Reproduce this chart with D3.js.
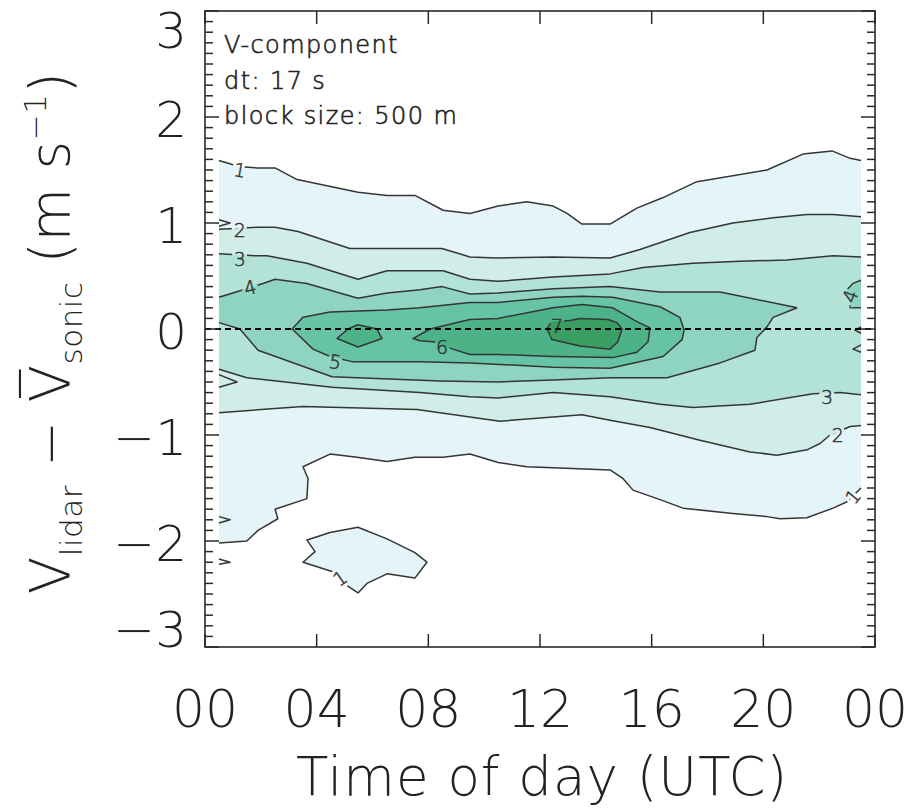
<!DOCTYPE html>
<html>
<head>
<meta charset="utf-8">
<script src="https://cdn.jsdelivr.net/npm/d3@7"></script>
<style>
  body { margin: 0; background: #fff; }
  svg { display: block; }
  text { font-family: "DejaVu Sans", sans-serif; font-weight: 200; fill: #222; }
</style>
</head>
<body>
<svg id="chart" width="911" height="808"></svg>
<script>
// axis ticks
const hourTicks = [0, 4, 8, 12, 16, 20, 24];
const hourLabels = ["00", "04", "08", "12", "16", "20", "00"];
const diffTicks = [-3, -2, -1, 0, 1, 2, 3];
const notes = ["V-component", "dt: 17 s", "block size: 500 m"];

// contour levels 1..7, fill colours
const levels = [1, 2, 3, 4, 5, 6, 7];
const levelColors = ["#e4f4f8", "#d1ede7", "#b3e3d6", "#8fd4c0", "#67c3a5", "#4cb389", "#3a9e62"];

// contour lines, [hour, difference in m/s]
const level1Upper = [[0.5,1.59],[1.25,1.53],[1.9,1.52],[2.51,1.52],[3.3,1.41],[5.48,1.29],[6.52,1.26],[7.52,1.26],[8.53,1.12],[9.49,1.09],[10.5,1.16],[11.53,1.2],[12.47,1.16],[12.97,1.09],[13.5,0.99],[14.51,0.99],[15.47,1.14],[16.41,1.24],[17.62,1.39],[20.13,1.5],[21.42,1.65],[22.46,1.68],[23.11,1.61],[23.5,1.59]];
const level1Lower = [[0.5,-2.02],[1.5,-2.0],[1.9,-1.9],[2.61,-1.79],[2.51,-1.7],[3.65,-1.6],[3.69,-1.41],[3.51,-1.3],[4.48,-1.18],[5.44,-1.21],[6.52,-1.25],[7.52,-1.21],[8.53,-1.21],[9.49,-1.18],[10.5,-1.26],[11.53,-1.3],[14.51,-1.33],[14.97,-1.41],[15.33,-1.52],[16.3,-1.61],[17.12,-1.69],[18.91,-1.74],[20.13,-1.77],[20.6,-1.79],[21.56,-1.78],[22.5,-1.69],[23.0,-1.63],[23.5,-1.5]];
const level1Island = [[3.65,-1.99],[3.94,-2.1],[3.51,-2.2],[4.58,-2.29],[5.09,-2.42],[5.48,-2.49],[5.8,-2.4],[6.52,-2.31],[7.52,-2.35],[7.95,-2.2],[7.52,-2.11],[6.52,-1.98],[5.48,-1.87],[4.48,-1.92]];
const level2Upper = [[0.5,0.94],[1.25,0.95],[1.9,0.96],[2.51,0.96],[3.33,0.92],[5.19,0.76],[7.7,0.76],[8.49,0.76],[9.49,0.68],[10.46,0.67],[12.47,0.68],[14.51,0.67],[15.58,0.75],[17.37,0.91],[18.91,1.0],[20.35,1.05],[21.56,1.08],[22.5,1.08],[23.5,1.06]];
const level2Lower = [[0.5,-0.79],[3.51,-0.73],[7.59,-0.76],[10.57,-0.87],[13.5,-0.81],[14.51,-0.86],[15.94,-0.93],[17.73,-1.05],[19.52,-1.16],[20.49,-1.19],[21.56,-1.14],[22.03,-1.08],[22.39,-1.0],[23.11,-0.92],[23.5,-0.91]];
const level3Upper = [[0.5,0.71],[1.79,0.69],[2.22,0.69],[3.65,0.62],[5.48,0.47],[6.52,0.55],[8.53,0.55],[9.49,0.47],[10.5,0.45],[12.47,0.49],[14.51,0.52],[15.69,0.58],[17.48,0.62],[19.16,0.64],[20.85,0.65],[22.5,0.69],[23.5,0.68]];
const level3Lower = [[0.5,-0.38],[1.5,-0.46],[4.55,-0.55],[7.7,-0.6],[9.49,-0.64],[10.5,-0.65],[12.47,-0.6],[14.51,-0.64],[16.3,-0.71],[17.48,-0.74],[19.52,-0.71],[21.78,-0.61],[22.75,-0.6],[23.5,-0.62]];
const level4Upper = [[0.5,0.3],[1.61,0.39],[2.08,0.43],[2.51,0.47],[3.65,0.43],[5.48,0.29],[6.52,0.34],[7.7,0.37],[8.49,0.4],[9.49,0.33],[10.5,0.34],[12.47,0.38],[14.51,0.4],[16.3,0.35],[18.45,0.35],[21.21,0.2]];
const level4Lower = [[0.5,0.06],[1.25,0.0],[1.9,-0.2],[4.55,-0.45],[8.42,-0.49],[10.5,-0.5],[12.47,-0.48],[14.51,-0.46],[16.55,-0.46],[18.45,-0.32],[19.7,-0.2],[19.77,-0.08],[20.13,0.02],[20.35,0.11],[21.21,0.2]];
const level4Island = [[23.5,0.46],[23.21,0.43],[22.92,0.35],[23.11,0.25],[23.11,0.2],[23.5,0.2]];
const level5Loop = [[3.12,0.0],[3.51,0.11],[4.48,0.16],[6.52,0.18],[7.7,0.2],[9.49,0.25],[10.5,0.25],[12.47,0.3],[13.5,0.31],[14.61,0.3],[16.3,0.21],[17.01,0.11],[17.16,-0.01],[17.09,-0.1],[16.41,-0.26],[14.51,-0.37],[12.47,-0.36],[9.49,-0.32],[7.7,-0.31],[5.3,-0.31],[4.48,-0.26],[3.87,-0.19]];
const level6Loop = [[7.45,-0.09],[8.06,0.0],[9.49,0.09],[10.5,0.1],[12.47,0.2],[13.5,0.23],[14.61,0.2],[15.47,0.07],[15.94,0.01],[15.87,-0.12],[15.47,-0.22],[14.61,-0.27],[12.47,-0.26],[10.5,-0.24],[9.49,-0.24],[8.88,-0.19],[8.17,-0.12],[7.7,-0.11]];
const level6Island = [[4.73,-0.09],[5.12,0.0],[5.48,0.04],[6.16,0.0],[6.34,-0.09],[5.48,-0.17]];
const level7Loop = [[12.25,0.0],[12.43,-0.1],[13.43,-0.16],[14.51,-0.19],[14.79,-0.12],[14.94,0.0],[14.76,0.06],[14.44,0.09],[13.43,0.1],[13.07,0.08],[12.4,0.07]];
// little contour hooks where a line just touches the edge of the data
const edgeHooks = [
  [[0.5,1.03],[0.9,1.0],[0.5,0.97]],
  [[0.5,-0.43],[1.15,-0.5],[0.5,-0.55]],
  [[0.5,-1.77],[0.9,-1.8],[0.5,-1.83]],
  [[0.5,-2.17],[0.9,-2.2],[0.5,-2.22]],
  [[23.5,0.02],[23.28,-0.01],[23.5,-0.04]],
  [[23.5,-0.15],[23.21,-0.19],[23.5,-0.22]]
];
const contourLabels = [
  {text: "1", h: 1.25, v: 1.5, rot: 10},
  {text: "2", h: 1.25, v: 0.93, rot: 0},
  {text: "3", h: 1.25, v: 0.66, rot: 0},
  {text: "4", h: 1.61, v: 0.39, rot: -15},
  {text: "5", h: 4.66, v: -0.31, rot: 10},
  {text: "6", h: 8.49, v: -0.17, rot: 0},
  {text: "7", h: 12.61, v: 0.03, rot: 0},
  {text: "3", h: 22.28, v: -0.64, rot: 0},
  {text: "2", h: 22.67, v: -1.0, rot: 0},
  {text: "1", h: 23.21, v: -1.58, rot: -50},
  {text: "1", h: 4.84, v: -2.35, rot: -35},
  {text: "4", h: 23.11, v: 0.31, rot: -70}
];

const W = 911, H = 808;
const plot = {left: 205, right: 875, top: 11, bottom: 647};
const ink = "#2a2a2a";

const svg = d3.select("#chart");

const x = d3.scaleLinear().domain([0, 24]).range([plot.left, plot.right]);
const y = d3.scaleLinear().domain([-3, 3]).range([plot.bottom, plot.top]);
const color = d3.scaleOrdinal().domain(levels).range(levelColors);

const openLine = d3.line().x(d => x(d[0])).y(d => y(d[1]));
const shape = d3.line().x(d => x(d[0])).y(d => y(d[1])).curve(d3.curveLinearClosed);
const band = (up, lo) => up.concat(lo.slice().reverse());

const defs = svg.append("defs");
defs.append("clipPath").attr("id", "plot-clip")
  .append("rect")
  .attr("x", plot.left).attr("y", plot.top)
  .attr("width", plot.right - plot.left).attr("height", plot.bottom - plot.top);

// line gaps under the contour labels
const gaps = defs.append("mask").attr("id", "label-gaps")
  .attr("maskUnits", "userSpaceOnUse")
  .attr("x", 0).attr("y", 0).attr("width", W).attr("height", H);
gaps.append("rect").attr("width", W).attr("height", H).attr("fill", "#fff");
gaps.selectAll("text").data(contourLabels).join("text")
  .attr("transform", d => `translate(${x(d.h)},${y(d.v)}) rotate(${d.rot})`)
  .attr("text-anchor", "middle").attr("dy", "0.36em")
  .style("font-size", "19px").style("fill", "#000")
  .attr("stroke", "#000").attr("stroke-width", 7)
  .text(d => d.text);

const regions = [
  {pts: band(level1Upper, level1Lower), level: 1},
  {pts: level1Island, level: 1},
  {pts: band(level2Upper, level2Lower), level: 2},
  {pts: band(level3Upper, level3Lower), level: 3},
  {pts: band(level4Upper, level4Lower), level: 4},
  {pts: level4Island, level: 4},
  {pts: level5Loop, level: 5},
  {pts: level6Loop, level: 6},
  {pts: level6Island, level: 6},
  {pts: level7Loop, level: 7}
];

const body = svg.append("g").attr("clip-path", "url(#plot-clip)");

body.selectAll("path.fill").data(regions).join("path")
  .attr("class", "fill")
  .attr("d", d => shape(d.pts))
  .attr("fill", d => color(d.level));

const openLines = [level1Upper, level1Lower, level2Upper, level2Lower, level3Upper, level3Lower,
  level4Upper, level4Lower, level4Island].concat(edgeHooks);
const closedLines = [level1Island, level5Loop, level6Loop, level6Island, level7Loop];

const lines = body.append("g").attr("mask", "url(#label-gaps)")
  .attr("fill", "none").attr("stroke", "#353535").attr("stroke-width", 1.5)
  .attr("stroke-linejoin", "round");
lines.selectAll("path.open").data(openLines).join("path").attr("class", "open").attr("d", openLine);
lines.selectAll("path.closed").data(closedLines).join("path").attr("class", "closed").attr("d", shape);

body.selectAll("text.clabel").data(contourLabels).join("text")
  .attr("class", "clabel")
  .attr("transform", d => `translate(${x(d.h)},${y(d.v)}) rotate(${d.rot})`)
  .attr("text-anchor", "middle").attr("dy", "0.36em")
  .style("font-size", "19px").style("fill", "#333")
  .attr("stroke", "#333").attr("stroke-width", 0.5)
  .text(d => d.text);

// zero line
svg.append("line")
  .attr("x1", plot.left).attr("x2", plot.right)
  .attr("y1", y(0)).attr("y2", y(0))
  .attr("stroke", "#000").attr("stroke-width", 2).attr("stroke-dasharray", "6,4");

// frame and ticks
svg.append("rect")
  .attr("x", plot.left).attr("y", plot.top)
  .attr("width", plot.right - plot.left).attr("height", plot.bottom - plot.top)
  .attr("fill", "none").attr("stroke", ink).attr("stroke-width", 1.6);

const minor = d3.range(-30, 31).map(i => i / 10);
const ticks = svg.append("g").attr("stroke", ink).attr("stroke-width", 1.5);
const tickLen = v => Math.abs(v - Math.round(v)) < 1e-6 ? 14 : 8;
ticks.selectAll("line.yl").data(minor).join("line").attr("class", "yl")
  .attr("x1", plot.left).attr("x2", d => plot.left + tickLen(d))
  .attr("y1", d => y(d)).attr("y2", d => y(d));
ticks.selectAll("line.yr").data(minor).join("line").attr("class", "yr")
  .attr("x1", plot.right).attr("x2", d => plot.right - tickLen(d))
  .attr("y1", d => y(d)).attr("y2", d => y(d));
ticks.selectAll("line.xb").data(hourTicks).join("line").attr("class", "xb")
  .attr("x1", d => x(d)).attr("x2", d => x(d))
  .attr("y1", plot.bottom).attr("y2", plot.bottom - 13);
ticks.selectAll("line.xt").data(hourTicks).join("line").attr("class", "xt")
  .attr("x1", d => x(d)).attr("x2", d => x(d))
  .attr("y1", plot.top).attr("y2", plot.top + 13);

// tick labels
svg.append("g").selectAll("text").data(diffTicks).join("text")
  .attr("x", 187)
  .attr("y", d => Math.min(Math.max(y(d) + 2, 30), 629))
  .attr("dy", "0.36em").attr("text-anchor", "end")
  .style("font-size", "50px")
  .text(d => d < 0 ? "\u2212" + Math.abs(d) : d);

svg.append("g").selectAll("text").data(hourTicks).join("text")
  .attr("x", d => x(d)).attr("y", 708)
  .attr("dy", "0.36em").attr("text-anchor", "middle")
  .style("font-size", "52px")
  .text((d, i) => hourLabels[i]);

// axis titles
svg.append("text")
  .attr("x", (plot.left + plot.right) / 2 + 2).attr("y", 795)
  .attr("text-anchor", "middle")
  .style("font-size", "53px").style("letter-spacing", "1px")
  .text("Time of day (UTC)");

const yt = svg.append("text")
  .attr("transform", "translate(69,333) rotate(-90)")
  .attr("text-anchor", "middle")
  .style("font-size", "55px").style("letter-spacing", "0.5px");
yt.append("tspan").text("V");
yt.append("tspan").attr("baseline-shift", "-13").style("font-size", "31px").text("lidar");
yt.append("tspan").text(" \u2212 V\u0305");
yt.append("tspan").attr("baseline-shift", "-13").style("font-size", "31px").text("sonic");
yt.append("tspan").text(" (m s");
yt.append("tspan").attr("baseline-shift", "23").style("font-size", "31px").text("\u22121");
yt.append("tspan").text(")");

// notes in the top-left corner
svg.append("g").selectAll("text").data(notes).join("text")
  .attr("x", 224).attr("y", (d, i) => 53 + i * 35.5)
  .style("font-size", "24px").style("letter-spacing", "1.4px")
  .attr("stroke", "#222").attr("stroke-width", 0.6)
  .text(d => d);
</script>
</body>
</html>
